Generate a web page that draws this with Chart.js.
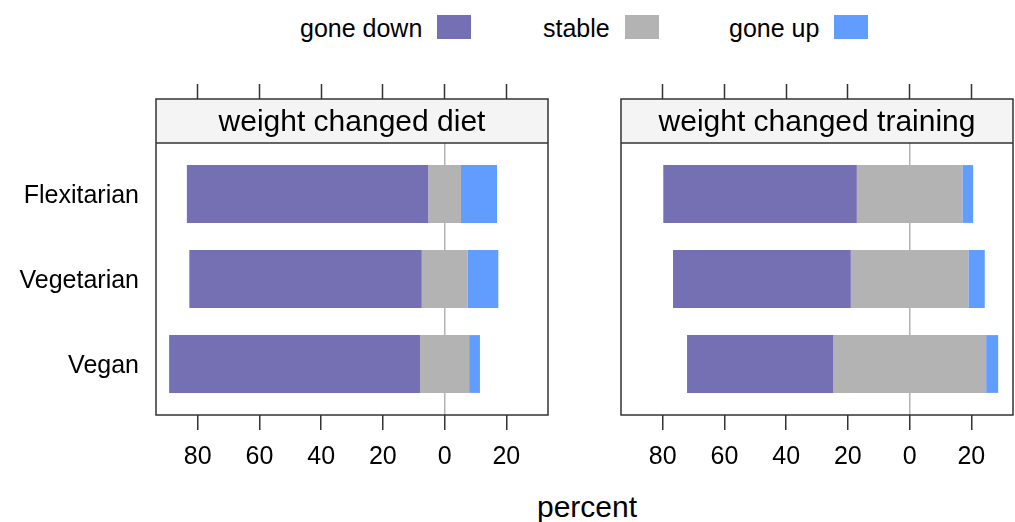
<!DOCTYPE html>
<html>
<head>
<meta charset="utf-8">
<script src="https://cdn.jsdelivr.net/npm/chart.js@4.4.1/dist/chart.umd.min.js"></script>
<style>
  body { margin: 0; background: #fff; font-family: "Liberation Sans", Arial, sans-serif; }
  #page { position: relative; width: 1015px; height: 522px; overflow: hidden; }
  canvas { position: absolute; }
  .key { position: absolute; top: 12px; height: 30px; display: flex; align-items: center; font-size: 25px; color: #000; }
  .key span.txt { position: relative; top: 1px; }
  .key .box { display: inline-block; width: 34px; height: 24px; margin-left: 15px; }
  #xlab { position: absolute; left: 537px; top: 490px; font-size: 30px; color: #000; }
</style>
</head>
<body>
<div id="page">
  <div class="key" style="left:300px"><span class="txt">gone down</span><span class="box" style="background:#7570B3"></span></div>
  <div class="key" style="left:543px"><span class="txt">stable</span><span class="box" style="background:#B3B3B3"></span></div>
  <div class="key" style="left:729px"><span class="txt">gone up</span><span class="box" style="background:#619CFF"></span></div>
  <canvas id="diet" width="575" height="420" style="left:0;top:60px"></canvas>
  <canvas id="training" width="415" height="420" style="left:600px;top:60px"></canvas>
  <div id="xlab">percent</div>
</div>
<script>
// 数据（百分比）
const categories = ['Flexitarian', 'Vegetarian', 'Vegan'];
const dietDown = [78.2, 75.3, 81.3];
const dietStable = [10.6, 14.8, 15.9];
const dietUp = [11.7, 10.0, 3.5];
const trainDown = [62.7, 57.6, 47.3];
const trainStable = [34.2, 38.1, 49.6];
const trainUp = [3.5, 5.3, 3.9];
const xTicks = [-80, -60, -40, -20, 0, 20];

const FONT = '"Liberation Sans", Arial, sans-serif';
const C_DOWN = '#7570B3', C_STABLE = '#B3B3B3', C_UP = '#619CFF';
const LINE = '#333';
const STRIP_H = 44;

Chart.defaults.font.family = FONT;
Chart.defaults.color = '#000';

// lattice 风格的条带标题和面板边框
const stripPlugin = {
    id: 'strip',
    beforeDatasetsDraw(chart, args, opts) {
        const a = chart.chartArea, ctx = chart.ctx;
        ctx.save();
        ctx.fillStyle = '#f4f4f4';
        ctx.fillRect(a.left, a.top, a.right - a.left, STRIP_H);
        ctx.fillStyle = '#000';
        ctx.font = '30px ' + FONT;
        ctx.textAlign = 'center';
        ctx.textBaseline = 'middle';
        ctx.fillText(opts.text, (a.left + a.right) / 2, a.top + STRIP_H / 2 + 2);
        ctx.restore();
    },
    afterDraw(chart) {
        const a = chart.chartArea, ctx = chart.ctx;
        ctx.save();
        ctx.strokeStyle = LINE;
        ctx.lineWidth = 1.5;
        ctx.strokeRect(a.left, a.top, a.right - a.left, a.bottom - a.top);
        ctx.beginPath();
        ctx.moveTo(a.left, a.top + STRIP_H);
        ctx.lineTo(a.right, a.top + STRIP_H);
        ctx.stroke();
        ctx.restore();
    }
};

function setTicks(scale) {
    scale.ticks = xTicks.map(v => ({ value: v }));
}

// 以稳定类别为中心的发散条形
function buildDatasets(down, stable, up) {
    const common = { xAxisID: 'x', yAxisID: 'y', grouped: false, barPercentage: 0.68, categoryPercentage: 1, borderWidth: 0 };
    return [
        Object.assign({
            label: 'gone down',
            data: down.map((d, i) => ({ y: i + 1, x: [-(stable[i] / 2 + d), -stable[i] / 2] })),
            backgroundColor: C_DOWN
        }, common),
        Object.assign({
            label: 'stable',
            data: stable.map((s, i) => ({ y: i + 1, x: [-s / 2, s / 2] })),
            backgroundColor: C_STABLE
        }, common),
        Object.assign({
            label: 'gone up',
            data: up.map((u, i) => ({ y: i + 1, x: [stable[i] / 2, stable[i] / 2 + u] })),
            backgroundColor: C_UP
        }, common)
    ];
}

function makePanel(id, title, down, stable, up, showY, padLeft, padRight) {
    return new Chart(document.getElementById(id), {
        type: 'bar',
        data: { datasets: buildDatasets(down, stable, up) },
        plugins: [stripPlugin],
        options: {
            indexAxis: 'y',
            responsive: false,
            animation: false,
            layout: { padding: { left: padLeft, right: padRight, top: 0, bottom: 0 } },
            scales: {
                x: {
                    type: 'linear',
                    position: 'bottom',
                    min: -93.5,
                    max: 33.5,
                    afterBuildTicks: setTicks,
                    afterFit: s => { s.height = 65; },
                    border: { display: false },
                    grid: {
                        color: c => (c.tick && c.tick.value === 0) ? '#b3b3b3' : 'rgba(0,0,0,0)',
                        lineWidth: 1.5,
                        tickLength: 15,
                        tickColor: LINE,
                        tickWidth: 1.5
                    },
                    ticks: {
                        callback: v => Math.abs(v),
                        font: { size: 25 },
                        color: '#000',
                        padding: 12,
                        autoSkip: false,
                        maxRotation: 0
                    }
                },
                x2: {
                    type: 'linear',
                    position: 'top',
                    min: -93.5,
                    max: 33.5,
                    afterBuildTicks: setTicks,
                    afterFit: s => { s.height = 39; },
                    border: { display: false },
                    grid: { drawOnChartArea: false, tickLength: 15, color: LINE, tickColor: LINE, tickWidth: 1.5 },
                    ticks: { display: false }
                },
                y: {
                    type: 'linear',
                    reverse: true,
                    offset: false,
                    min: -0.1176,
                    max: 3.6,
                    display: showY,
                    afterBuildTicks: s => { s.ticks = categories.map((c, i) => ({ value: i + 1 })); },
                    afterFit: s => { s.width = showY ? 156 : 0; },
                    border: { display: false },
                    grid: { display: false, drawTicks: false },
                    ticks: {
                        callback: v => categories[v - 1],
                        font: { size: 25 },
                        color: '#000',
                        padding: 17,
                        labelOffset: 2
                    }
                }
            },
            plugins: {
                legend: { display: false },
                tooltip: { enabled: false },
                strip: { text: title }
            }
        }
    });
}

makePanel('diet', 'weight changed diet', dietDown, dietStable, dietUp, true, 0, 27);
makePanel('training', 'weight changed training', trainDown, trainStable, trainUp, false, 21, 2);
</script>
</body>
</html>
